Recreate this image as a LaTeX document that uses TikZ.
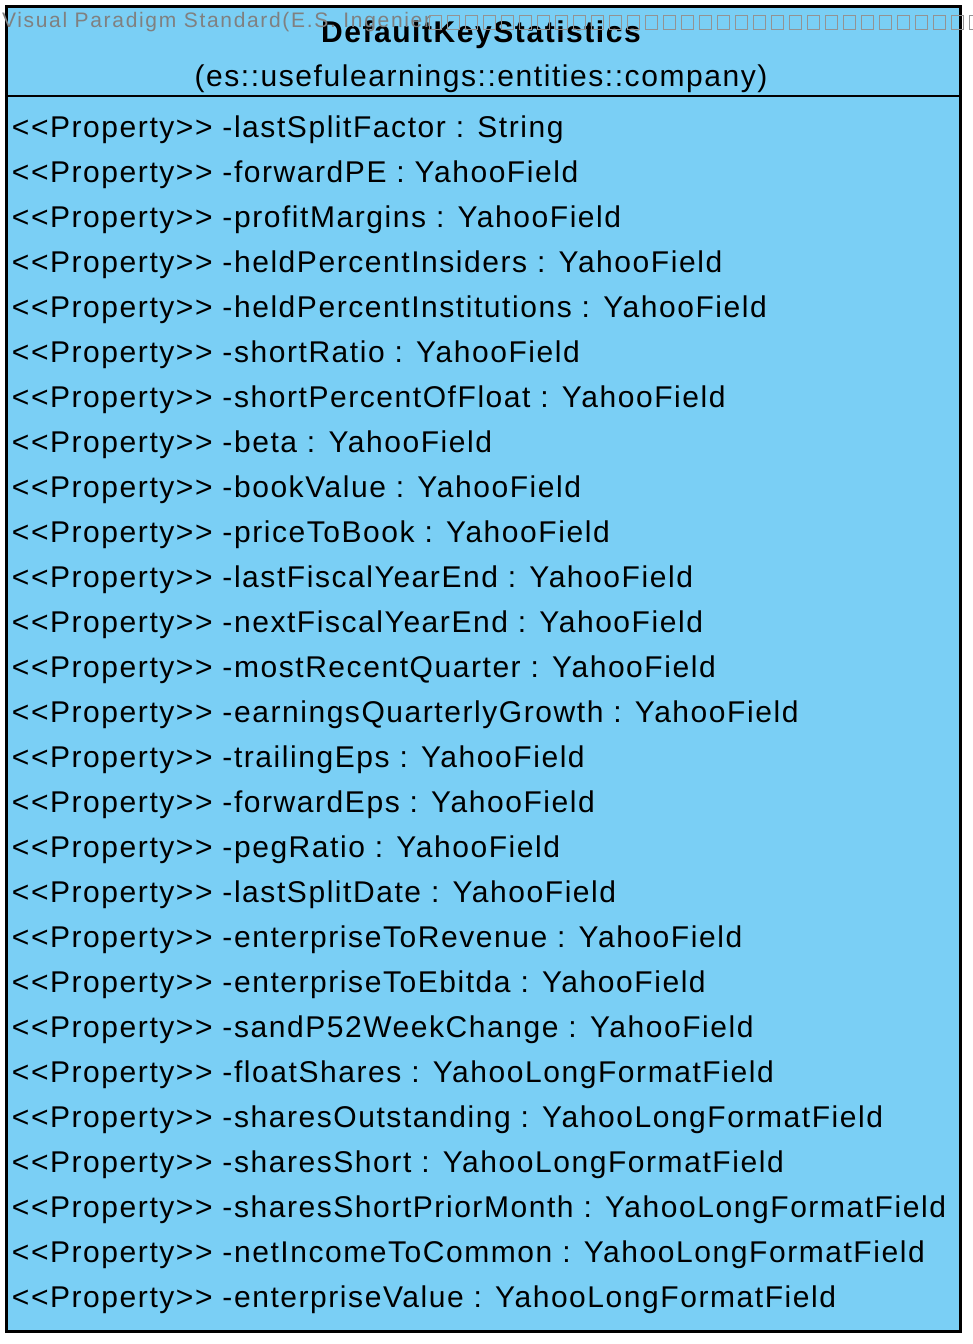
\documentclass[tikz,border=0pt]{standalone}
\usepackage{fontspec}
\setmainfont{Liberation Sans}
\newfontfamily\propfont[LetterSpace=5.2]{Liberation Sans}
\newfontfamily\markfont[LetterSpace=8]{Liberation Sans}
\definecolor{classfill}{RGB}{122,207,245}
\definecolor{markgray}{RGB}{128,128,128}
\tikzset{
  txt/.style={inner sep=0pt, outer sep=0pt, text=black},
  proptxt/.style={txt, anchor=base west, font=\propfont\fontsize{30}{34}\selectfont},
  titletxt/.style={txt, anchor=base, font=\propfont\bfseries\fontsize{30}{34}\selectfont},
  subtxt/.style={txt, anchor=base, font=\propfont\fontsize{30}{34}\selectfont},
  marktxt/.style={inner sep=0pt, outer sep=0pt, anchor=base west, text=markgray, font=\markfont\fontsize{21}{24}\selectfont},
  markbox/.style={draw=markgray!85, line width=1pt},
  frame/.style={draw=black, line width=2.5pt, fill=classfill},
  sep/.style={draw=black, line width=2pt}
}
\begin{document}
\begin{tikzpicture}[x=1pt,y=-1pt]
\useasboundingbox (0,0) rectangle (972,1344);
\draw[frame] (6.5,6.5) rectangle (960.5,1331.5);
\coordinate (sepL) at (6.5,96);
\coordinate (sepR) at (960.5,96);
\draw[sep] (sepL) -- (sepR);
\node[titletxt] (title) at (481,42) {DefaultKeyStatistics};
\node[subtxt] (pkg) at (481,86.5) {(es::usefulearnings::entities::company)};
\foreach \t [count=\i from 0] in {
 lastSplitFactor : String,
 forwardPE : YahooField,
 profitMargins : YahooField,
 heldPercentInsiders : YahooField,
 heldPercentInstitutions : YahooField,
 shortRatio : YahooField,
 shortPercentOfFloat : YahooField,
 beta : YahooField,
 bookValue : YahooField,
 priceToBook : YahooField,
 lastFiscalYearEnd : YahooField,
 nextFiscalYearEnd : YahooField,
 mostRecentQuarter : YahooField,
 earningsQuarterlyGrowth : YahooField,
 trailingEps : YahooField,
 forwardEps : YahooField,
 pegRatio : YahooField,
 lastSplitDate : YahooField,
 enterpriseToRevenue : YahooField,
 enterpriseToEbitda : YahooField,
 sandP52WeekChange : YahooField,
 floatShares : YahooLongFormatField,
 sharesOutstanding : YahooLongFormatField,
 sharesShort : YahooLongFormatField,
 sharesShortPriorMonth : YahooLongFormatField,
 netIncomeToCommon : YahooLongFormatField,
 enterpriseValue : YahooLongFormatField}{
  \node[proptxt] (row\i) at (12,137.5+45*\i) {<{}<Property>{}> -\t};
}
\node[marktxt] (mark) at (2,27.5) {Visual Paradigm Standard(E.S. Ingenier};
\foreach \k in {0,...,30}{
  \draw[markbox] (429+18*\k,15) rectangle (441+18*\k,29);
}
\end{tikzpicture}
\end{document}
